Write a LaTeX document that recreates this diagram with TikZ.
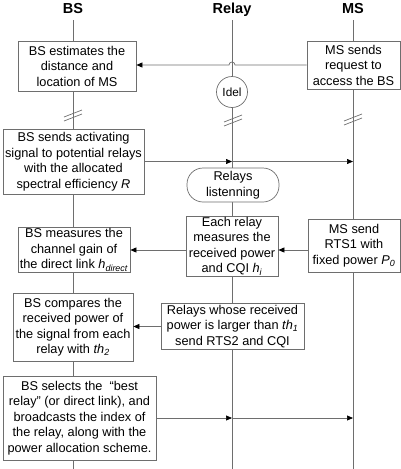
\documentclass[tikz,border=0pt]{standalone}
\usepackage{fontspec}
\setmainfont{Liberation Sans}
\usetikzlibrary{arrows.meta}
\definecolor{linegray}{HTML}{6E6E6E}
\tikzset{
  box/.style={draw=linegray, fill=white, align=center, inner sep=1pt, line width=0.7pt,
    font=\fontsize{12.75}{15.5}\selectfont},
  head/.style={anchor=base, font=\fontsize{14.5}{16}\selectfont\bfseries},
  lifeline/.style={draw=linegray, line width=0.7pt},
  msg/.style={draw=linegray, line width=0.7pt, -{Triangle[length=6pt,width=5pt,color=black]}},
  brk/.style={draw=linegray, line width=0.7pt},
}
\begin{document}
\begin{tikzpicture}[x=1pt,y=-1pt]
\useasboundingbox (0,0) rectangle (401,469);

\node[head] (bsHead) at (73,13) {BS};
\node[head] (rlHead) at (232,13) {Relay};
\node[head] (msHead) at (353,13) {MS};

\coordinate (bsTop) at (73,20);  \coordinate (bsBot) at (73,469);
\coordinate (rlTop) at (232,20); \coordinate (rlBot) at (232,469);
\coordinate (msTop) at (353,20); \coordinate (msBot) at (353,469);
\draw[lifeline] (bsTop) -- (bsBot);
\draw[lifeline] (rlTop) -- (rlBot);
\draw[lifeline] (msTop) -- (msBot);

% breaks on the lifelines
\coordinate (bsBrk) at (73,116);
\coordinate (rlBrk) at (233,121);
\coordinate (msBrk) at (353,120);
\foreach \c in {bsBrk,rlBrk,msBrk}
  \draw[brk, shift={(\c)}] (-9,1) -- (9,-6) (-9,5) -- (9,-2);

\node[box, minimum width=118pt, minimum height=50pt] (BS1) at (77,66)
  {BS estimates the\\distance and\\location of MS};
\node[box, minimum width=93pt, minimum height=48pt] (MS1) at (353.5,65)
  {MS sends\\request to\\access the BS};
\node[draw=linegray, fill=white, circle, line width=0.7pt, minimum size=31pt, inner sep=0pt,
  font=\fontsize{11.8}{13}\selectfont] (idle) at (232,92) {Idel};

\node[box, minimum width=141pt, minimum height=65pt] (BS2) at (73.5,161.5)
  {BS sends activating\\signal to potential relays\\with the allocated\\spectral efficiency \textit{R}};
\node[box, rounded corners=16pt, minimum width=92pt, minimum height=34pt] (listen) at (233,185)
  {Relays\\listenning};

\node[box, minimum width=92pt, minimum height=60pt] (R2) at (232,246)
  {Each relay\\measures the\\received power\\and CQI \textit{h}\textsubscript{\textit{i}}};
\node[box, minimum width=92pt, minimum height=53pt] (MS2) at (354,245.5)
  {MS send\\RTS1 with\\fixed power \textit{P}\textsubscript{\textit{0}}};
\node[box, minimum width=112pt, minimum height=44pt] (BS3) at (74,250)
  {BS measures the\\channel gain of\\the direct link \textit{h}\textsubscript{\textit{direct}}};

\node[box, minimum width=120pt, minimum height=68pt] (BS4) at (73,327)
  {BS compares the\\received power of\\the signal from each\\relay with \textit{th}\textsubscript{\textit{2}}};
\node[box, minimum width=143pt, minimum height=46pt] (R3) at (232.5,326.5)
  {Relays whose received\\power is larger than \textit{th}\textsubscript{\textit{1}}\\send RTS2 and CQI};

\node[box, minimum width=153pt, minimum height=84pt] (BS5) at (79.5,418)
  {BS selects the \ “best\\relay”\ (or direct link), and\\broadcasts the index of\\the relay, along with the\\power allocation scheme.};

\draw[msg] (MS1.west) -- ([xshift=3pt]rlTop |- MS1.west)
  arc[start angle=0, end angle=180, radius=3pt] -- (BS1.east |- MS1.west);
\draw[msg] (BS2.east) -- (BS2.east -| rlTop);
\draw[msg] (BS2.east -| rlTop) -- (BS2.east -| msTop);
\draw[msg] (MS2.west |- BS3.east) -- (R2.east |- BS3.east);
\draw[msg] (R2.west |- BS3.east) -- (BS3.east);
\draw[msg] (R3.west) -- (BS4.east |- R3.west);
\draw[msg] (BS5.east) -- (BS5.east -| rlTop);
\draw[msg] (BS5.east -| rlTop) -- (BS5.east -| msTop);
\end{tikzpicture}
\end{document}
